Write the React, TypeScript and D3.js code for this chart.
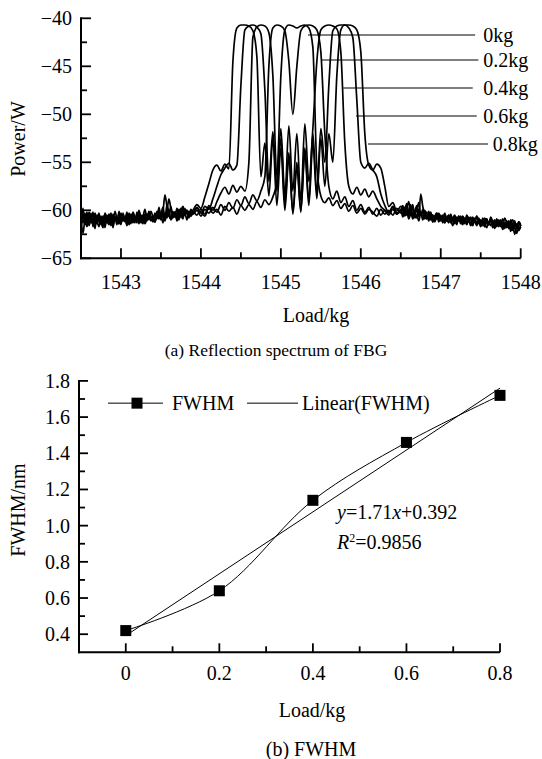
import React from 'react';
import * as d3 from 'd3';

// ---------- (a) reflection spectrum ----------
// sampling: dense baseline segments and a coarser core segment around the grating peak
const NOISE_L_START = 1542.5;
const NOISE_R_START = 1546.525;
const NOISE_STEP = 0.025;
const CORE_START = 1543.9;
const CORE_STEP = 0.05;
const loadLabels = ['0kg', '0.2kg', '0.4kg', '0.6kg', '0.8kg'];

// left baseline (1542.500 – 1543.875 nm)
const left0kg = [
  -60.4,-61.3,-60.8,-61.6,-60.2,-61.0,-61.4,-60.6,-61.2,-60.3,-61.5,-60.9,-60.5,-61.3,-60.7,-61.6,-60.4,-61.0,-60.8,-61.4,
  -60.3,-61.1,-60.6,-61.5,-60.9,-60.4,-61.2,-60.7,-61.3,-60.2,-61.0,-60.5,-61.4,-60.8,-60.3,-61.1,-60.6,-61.2,-60.1,-60.9,
  -60.5,-61.3,-60.4,-60.8,-59.9,-61.0,-60.6,-60.2,-61.1,-60.5,-59.8,-60.7,-60.3,-61.0,-60.1,-60.6,
];
const left02kg = [
  -61.9,-60.5,-61.2,-60.2,-61.6,-60.9,-61.4,-60.3,-61.1,-61.7,-60.6,-61.3,-60.4,-61.0,-61.5,-60.7,-61.2,-60.1,-60.9,-61.4,
  -60.5,-61.1,-60.8,-61.6,-60.3,-60.9,-61.3,-60.6,-61.0,-60.0,-60.8,-61.4,-60.5,-61.1,-60.2,-60.7,-61.2,-60.4,-60.9,-59.7,
  -60.6,-60.2,-61.0,-59.4,-60.4,-60.9,-60.1,-60.7,-60.3,-61.0,-60.2,-59.7,-60.5,-60.0,-60.8,-60.3,
];
const left04kg = [
  -60.7,-62.4,-61.0,-61.7,-60.4,-61.3,-60.8,-61.9,-60.5,-61.2,-60.9,-61.6,-60.3,-61.0,-61.4,-60.6,-61.8,-60.7,-61.1,-60.4,
  -61.3,-60.6,-61.0,-60.2,-61.5,-60.8,-60.3,-61.2,-60.6,-61.4,-60.5,-60.9,-61.3,-60.4,-61.0,-60.1,-60.7,-61.2,-60.5,-60.0,
  -60.9,-60.4,-61.1,-60.3,-60.6,-59.6,-60.8,-60.2,-60.7,-59.9,-60.5,-60.9,-59.8,-60.4,-60.1,-60.6,
];
const left06kg = [
  -59.4,-60.8,-60.3,-61.6,-60.7,-61.2,-60.2,-61.5,-60.9,-60.4,-61.4,-60.6,-61.8,-60.5,-61.1,-60.3,-61.3,-60.8,-61.5,-60.1,
  -61.0,-60.6,-61.2,-60.4,-60.9,-61.4,-60.2,-60.8,-61.1,-60.5,-61.3,-60.7,-59.9,-60.9,-60.3,-61.0,-60.6,-61.2,-60.2,-60.8,
  -60.4,-59.7,-60.7,-60.1,-58.8,-59.9,-60.6,-60.2,-60.9,-60.3,-60.7,-59.8,-60.4,-60.0,-60.6,-59.9,
];
const left08kg = [
  -61.3,-59.8,-61.5,-60.6,-61.1,-60.3,-61.7,-60.9,-61.4,-60.5,-61.2,-61.8,-60.7,-61.3,-60.4,-61.0,-61.6,-60.6,-61.2,-60.8,
  -61.5,-60.3,-61.1,-60.7,-61.4,-60.5,-60.9,-61.3,-60.2,-61.0,-60.6,-61.2,-60.4,-60.9,-60.1,-60.7,-61.1,-60.3,-60.8,-60.5,
  -61.0,-60.2,-58.4,-59.6,-60.6,-60.9,-60.3,-60.7,-59.8,-60.5,-60.1,-59.6,-60.3,-60.0,-60.6,-60.2,
];

// core (1543.90 – 1546.50 nm)
const core0kg = [
  -60.3,-59.8,-60.2,-60.6,-59.7,-60.3,-59.9,-60.5,-59.6,-60.1,
  -59.7,-60.4,-59.5,-60.0,-59.4,-59.9,-59.1,-59.7,-58.9,-59.4,
  -58.6,-57.0,-46.0,-41.2,-40.7,-40.8,-41.0,-40.8,-40.7,-41.0,
  -43.0,-55.5,-58.5,-59.2,-58.7,-59.5,-59.0,-59.8,-59.3,-60.1,
  -59.5,-60.3,-59.8,-60.4,-59.9,-60.2,-60.6,-59.9,-60.4,-60.0,
  -60.5,-59.8,-60.3,
];
const core02kg = [
  -60.4,-60.0,-60.6,-59.9,-60.3,-59.7,-60.2,-59.4,-60.0,-59.2,
  -59.8,-58.9,-59.5,-58.6,-59.3,-58.4,-59.0,-58.0,-56.5,-45.0,
  -41.0,-40.7,-40.8,-41.3,-44.5,-50.0,-45.0,-41.3,-40.8,-40.7,
  -40.8,-41.2,-43.5,-52.0,-57.5,-58.8,-58.0,-59.2,-58.6,-59.6,
  -59.0,-60.0,-59.4,-60.2,-59.7,-60.4,-59.8,-60.5,-60.0,-60.3,
  -59.7,-60.4,-60.1,
];
const core04kg = [
  -60.1,-60.5,-59.9,-60.4,-59.5,-60.0,-59.1,-58.2,-57.6,-58.3,
  -57.4,-58.1,-57.5,-58.0,-55.0,-42.0,-40.9,-40.7,-40.8,-41.5,
  -46.0,-56.5,-51.5,-58.5,-51.2,-58.0,-52.0,-59.0,-51.0,-57.0,
  -51.5,-44.5,-41.2,-40.8,-40.7,-40.8,-41.1,-43.5,-53.0,-57.5,
  -58.3,-57.6,-58.4,-57.8,-58.6,-58.0,-58.8,-59.6,-60.0,-60.5,
  -59.9,-60.3,-60.0,
];
const core06kg = [
  -60.2,-59.7,-60.3,-59.6,-59.9,-58.8,-57.5,-56.3,-55.6,-55.1,
  -55.8,-55.3,-47.0,-41.2,-40.8,-40.7,-40.9,-41.6,-47.5,-57.0,
  -51.8,-58.0,-52.5,-59.3,-54.0,-60.4,-55.5,-60.2,-53.5,-59.0,
  -52.0,-58.2,-51.5,-55.0,-47.0,-41.3,-40.8,-40.7,-40.7,-41.0,
  -42.0,-48.5,-55.0,-55.6,-55.1,-55.8,-56.5,-58.3,-59.5,-60.2,
  -59.6,-60.4,-59.9,
];
const core08kg = [
  -60.0,-59.4,-59.8,-58.6,-57.2,-55.8,-55.3,-55.9,-55.2,-55.7,
  -44.5,-41.0,-40.7,-40.7,-40.8,-41.3,-44.0,-56.5,-53.0,-58.5,
  -52.5,-59.5,-53.5,-60.0,-54.5,-60.2,-55.0,-60.0,-54.0,-59.5,
  -53.0,-58.8,-52.5,-57.5,-52.0,-55.0,-46.0,-41.2,-40.7,-40.7,
  -40.8,-41.2,-43.5,-52.0,-55.3,-55.8,-55.2,-55.6,-57.5,-59.6,
  -59.2,-60.1,-59.6,
];

// right baseline (1546.525 – 1548.000 nm)
const right0kg = [
  -59.8,-60.5,-59.9,-60.7,-60.1,-60.9,-60.3,-59.7,-60.6,-60.2,-61.0,-60.4,-60.8,-60.1,-60.9,-60.5,-61.1,-60.3,-60.8,-60.6,
  -61.2,-60.4,-60.9,-61.3,-60.5,-61.0,-60.7,-61.4,-60.6,-61.1,-60.8,-61.3,-60.5,-61.0,-61.5,-60.7,-61.2,-60.6,-61.1,-61.6,
  -60.8,-61.3,-60.9,-61.5,-60.7,-61.2,-61.7,-60.9,-61.4,-61.0,-61.6,-60.8,-61.3,-61.8,-61.0,-61.5,-61.1,-61.9,-61.2,-61.6,
];
const right02kg = [
  -60.4,-59.7,-60.5,-60.0,-59.4,-60.6,-60.1,-60.8,-59.9,-60.5,-60.2,-60.9,-60.4,-61.1,-60.3,-60.7,-61.0,-60.4,-61.2,-60.7,
  -60.9,-60.3,-61.1,-60.6,-61.3,-60.8,-60.5,-61.2,-60.9,-61.4,-60.6,-61.0,-61.3,-60.7,-61.5,-60.9,-61.2,-60.6,-61.4,-61.0,
  -61.6,-60.8,-61.2,-61.5,-60.9,-61.3,-61.0,-61.7,-61.1,-61.4,-60.9,-61.6,-61.2,-61.9,-61.3,-61.0,-61.7,-61.4,-62.0,-61.5,
];
const right04kg = [
  -59.5,-60.2,-59.8,-59.1,-60.3,-59.6,-60.4,-60.0,-59.2,-60.5,-59.9,-60.7,-60.2,-60.9,-60.4,-61.2,-60.6,-60.9,-60.3,-61.0,
  -60.5,-61.3,-60.7,-61.0,-60.4,-61.2,-60.8,-61.5,-60.6,-61.1,-60.9,-61.4,-60.7,-61.2,-60.8,-61.6,-61.0,-61.3,-60.8,-61.5,
  -61.1,-61.7,-60.9,-61.4,-61.0,-61.8,-61.2,-61.5,-61.0,-61.7,-61.3,-61.9,-61.1,-61.6,-61.3,-62.1,-61.4,-61.8,-61.2,-61.6,
];
const right06kg = [
  -60.7,-60.0,-59.3,-60.4,-59.7,-60.8,-60.2,-59.5,-60.6,-58.3,-59.6,-60.4,-60.9,-60.3,-61.0,-60.5,-61.2,-60.7,-60.4,-61.1,
  -60.6,-61.3,-60.8,-60.5,-61.2,-60.9,-61.4,-60.7,-61.1,-60.6,-61.3,-60.9,-61.5,-61.0,-60.7,-61.4,-61.1,-61.6,-60.9,-61.3,
  -61.0,-61.7,-61.2,-61.5,-60.9,-61.4,-61.8,-61.1,-61.5,-61.2,-61.9,-61.3,-61.6,-61.1,-62.0,-61.4,-61.8,-62.4,-61.6,-61.3,
];
const right08kg = [
  -59.8,-60.6,-60.1,-60.9,-60.3,-59.4,-60.8,-60.5,-61.1,-60.3,-60.8,-60.0,-60.6,-60.9,-60.2,-61.2,-60.6,-60.3,-61.0,-60.5,
  -61.3,-60.8,-61.1,-60.5,-61.0,-61.6,-60.9,-61.3,-60.7,-61.2,-61.5,-60.8,-61.3,-61.0,-61.6,-61.1,-60.8,-61.5,-61.2,-61.7,
  -61.0,-61.4,-61.8,-61.2,-61.6,-61.1,-61.9,-61.3,-61.7,-61.2,-62.0,-61.5,-61.8,-61.3,-62.2,-61.6,-62.5,-61.8,-62.1,-61.7,
];

const leftSeg = [left0kg, left02kg, left04kg, left06kg, left08kg];
const coreSeg = [core0kg, core02kg, core04kg, core06kg, core08kg];
const rightSeg = [right0kg, right02kg, right04kg, right06kg, right08kg];

// leader lines of the labels: start wavelength, end wavelength, power level
const leaderStartWl = [1545.34, 1545.51, 1545.78, 1545.94, 1546.09];
const leaderEndWl = [1547.43, 1547.47, 1547.40, 1547.45, 1547.59];
const leaderPower = [-41.74, -44.34, -47.26, -50.18, -53.1];
const leaderLabelWl = [1547.53, 1547.53, 1547.53, 1547.53, 1547.65];

const xTicksA = [1543, 1544, 1545, 1546, 1547, 1548];
const xMinorA = [1542.5, 1543.5, 1544.5, 1545.5, 1546.5, 1547.5];
const yTicksA = [-65, -60, -55, -50, -45, -40];
const yMinorA = [-62.5, -57.5, -52.5, -47.5, -42.5];

// ---------- (b) FWHM ----------
const loads = [0, 0.2, 0.4, 0.6, 0.8];
const fwhm = [0.42, 0.64, 1.14, 1.46, 1.72];
const fitSlope = 1.71;
const fitIntercept = 0.392;
const xTicksB = [0, 0.2, 0.4, 0.6, 0.8];
const xMinorB = [-0.1, 0.1, 0.3, 0.5, 0.7];
const yTicksB = [0.4, 0.6, 0.8, 1.0, 1.2, 1.4, 1.6, 1.8];
const yMinorB = [0.5, 0.7, 0.9, 1.1, 1.3, 1.5, 1.7];

const FONT = '"Liberation Serif","Times New Roman",Times,serif';
const FS = 20;

export default function App() {
  // chart (a)
  const xA = d3.scaleLinear().domain([1542.5, 1548]).range([81, 520.7]);
  const yA = d3.scaleLinear().domain([-65, -40]).range([258.3, 18.3]);
  const lineA = d3
    .line<[number, number]>()
    .x((d) => xA(d[0]))
    .y((d) => yA(d[1]))
    .curve(d3.curveMonotoneX);
  const spectra = loadLabels.map((_, k) => {
    const pts: [number, number][] = [];
    leftSeg[k].forEach((v, j) => pts.push([NOISE_L_START + j * NOISE_STEP, v]));
    coreSeg[k].forEach((v, i) => pts.push([CORE_START + i * CORE_STEP, v]));
    rightSeg[k].forEach((v, j) => pts.push([NOISE_R_START + j * NOISE_STEP, v]));
    return pts;
  });

  // chart (b)
  const xB = d3.scaleLinear().domain([-0.1, 0.8]).range([79, 500]);
  const yB = d3.scaleLinear().domain([0.3, 1.8]).range([652.3, 380.9]);
  const pts = loads.map((l, i) => [l, fwhm[i]] as [number, number]);
  const lineB = d3
    .line<[number, number]>()
    .x((d) => xB(d[0]))
    .y((d) => yB(d[1]))
    .curve(d3.curveCatmullRom.alpha(0.5));
  const fitX = [loads[0], loads[loads.length - 1]];

  const minus = (v: number) => (v < 0 ? '\u2212' + Math.abs(v) : String(v));
  const axisW = 2;
  const tickW = 1.8;

  const xA0 = xA.range()[0];
  const yA0 = yA.range()[0];
  const xB0 = xB.range()[0];
  const yB0 = yB.range()[0];
  const legendY = yB(1.677);

  return (
    <svg
      width={542}
      height={759}
      style={{ position: 'absolute', left: 0, top: 0, background: '#fff' }}
      fontFamily={FONT}
      fontSize={FS}
    >
      <rect x={0} y={0} width={542} height={759} fill="#fff" />
      {/* ===== (a) ===== */}
      <g>
        {spectra.map((s, k) => (
          <path key={k} d={lineA(s) || ''} fill="none" stroke="#000" strokeWidth={1.7} strokeLinejoin="round" />
        ))}
        <line x1={xA0} x2={xA0} y1={yA(-40) - 1} y2={yA0 + 1} stroke="#000" strokeWidth={axisW} />
        <line x1={xA0 - 1} x2={xA.range()[1]} y1={yA0} y2={yA0} stroke="#000" strokeWidth={axisW} />
        {yTicksA.map((v) => (
          <g key={'ya' + v}>
            <line x1={xA0} x2={xA0 + 10} y1={yA(v)} y2={yA(v)} stroke="#000" strokeWidth={tickW} />
            <text x={72} y={yA(v) + 7} textAnchor="end">{minus(v)}</text>
          </g>
        ))}
        {yMinorA.map((v) => (
          <line key={'yma' + v} x1={xA0} x2={xA0 + 6} y1={yA(v)} y2={yA(v)} stroke="#000" strokeWidth={tickW} />
        ))}
        {xTicksA.map((v) => (
          <g key={'xa' + v}>
            <line x1={xA(v)} x2={xA(v)} y1={yA0} y2={yA0 - 10} stroke="#000" strokeWidth={tickW} />
            <text x={xA(v)} y={289} textAnchor="middle">{v}</text>
          </g>
        ))}
        {xMinorA.map((v) => (
          <line key={'xma' + v} x1={xA(v)} x2={xA(v)} y1={yA0} y2={yA0 - 6} stroke="#000" strokeWidth={tickW} />
        ))}
        <text x={18.3} y={139} transform="rotate(-90 18.3 139)" textAnchor="middle" dy="0.35em">Power/W</text>
        <text x={316} y={322} textAnchor="middle">Load/kg</text>
        <text x={276} y={356} textAnchor="middle" fontSize={17.5}>(a) Reflection spectrum of FBG</text>
        {loadLabels.map((lab, k) => (
          <g key={lab}>
            <line
              x1={xA(leaderStartWl[k])}
              x2={xA(leaderEndWl[k])}
              y1={yA(leaderPower[k])}
              y2={yA(leaderPower[k])}
              stroke="#000"
              strokeWidth={1.1}
            />
            <text x={xA(leaderLabelWl[k])} y={yA(leaderPower[k])} dy="0.35em">{lab}</text>
          </g>
        ))}
      </g>

      {/* ===== (b) ===== */}
      <g>
        <line
          x1={xB(fitX[0])}
          x2={xB(fitX[1])}
          y1={yB(fitSlope * fitX[0] + fitIntercept)}
          y2={yB(fitSlope * fitX[1] + fitIntercept)}
          stroke="#000"
          strokeWidth={1}
        />
        <path d={lineB(pts) || ''} fill="none" stroke="#000" strokeWidth={1} />
        {pts.map((p, i) => (
          <rect key={'m' + i} x={xB(p[0]) - 5.5} y={yB(p[1]) - 5.5} width={11} height={11} fill="#000" />
        ))}
        <line x1={xB0} x2={xB0} y1={yB(1.8) - 1} y2={yB0 + 1} stroke="#000" strokeWidth={axisW} />
        <line x1={xB0 - 1} x2={xB.range()[1]} y1={yB0} y2={yB0} stroke="#000" strokeWidth={axisW} />
        {yTicksB.map((v) => (
          <g key={'yb' + v}>
            <line x1={xB0} x2={xB0 + 9} y1={yB(v)} y2={yB(v)} stroke="#000" strokeWidth={tickW} />
            <text x={70} y={yB(v) + 7} textAnchor="end">{v.toFixed(1)}</text>
          </g>
        ))}
        {yMinorB.map((v) => (
          <line key={'ymb' + v} x1={xB0} x2={xB0 + 6} y1={yB(v)} y2={yB(v)} stroke="#000" strokeWidth={tickW} />
        ))}
        {xTicksB.map((v) => (
          <g key={'xb' + v}>
            <line x1={xB(v)} x2={xB(v)} y1={yB0} y2={yB0 - 9} stroke="#000" strokeWidth={tickW} />
            <text x={xB(v)} y={680} textAnchor="middle">{v === 0 ? '0' : v.toFixed(1)}</text>
          </g>
        ))}
        {xMinorB.map((v) => (
          <line key={'xmb' + v} x1={xB(v)} x2={xB(v)} y1={yB0} y2={yB0 - 6} stroke="#000" strokeWidth={tickW} />
        ))}
        <text x={18} y={510} transform="rotate(-90 18 510)" textAnchor="middle" dy="0.35em">FWHM/nm</text>
        <text x={312} y={717} textAnchor="middle">Load/kg</text>
        <text x={311} y={756} textAnchor="middle">(b) FWHM</text>

        {/* legend */}
        <line x1={108} x2={163} y1={legendY} y2={legendY} stroke="#000" strokeWidth={1} />
        <rect x={137 - 5.5} y={legendY - 5.5} width={11} height={11} fill="#000" />
        <text x={172} y={legendY} dy="0.35em">FWHM</text>
        <line x1={247} x2={298} y1={legendY} y2={legendY} stroke="#000" strokeWidth={1} />
        <text x={302} y={legendY} dy="0.35em">Linear(FWHM)</text>

        {/* fit annotation */}
        <text x={337} y={519}>
          <tspan fontStyle="italic">y</tspan>
          <tspan>={fitSlope}</tspan>
          <tspan fontStyle="italic">x</tspan>
          <tspan>+{fitIntercept}</tspan>
        </text>
        <text x={337} y={549}>
          <tspan fontStyle="italic">R</tspan>
          <tspan fontSize={12} dy={-7}>2</tspan>
          <tspan dy={7}>=0.9856</tspan>
        </text>
      </g>
    </svg>
  );
}
